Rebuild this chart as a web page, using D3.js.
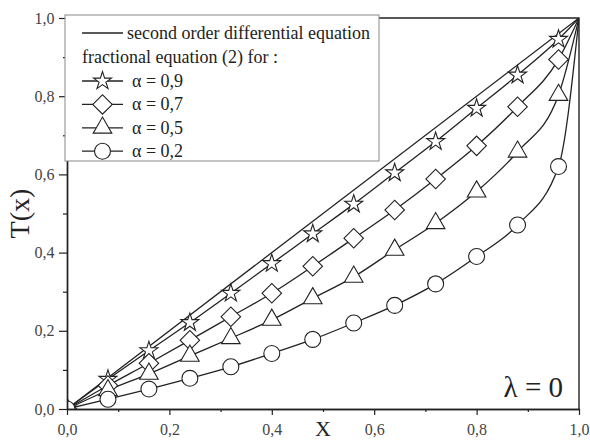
<!DOCTYPE html>
<html><head><meta charset="utf-8">
<script src="https://cdn.jsdelivr.net/npm/d3@7"></script>
<style>body{margin:0;background:#fff}svg{display:block}</style>
</head><body><svg id="c" width="590" height="441"></svg>
<script>
const xPts = [0, 0.08, 0.16, 0.24, 0.32, 0.40, 0.48, 0.56, 0.64, 0.72, 0.80, 0.88, 0.96];
const yAlpha09 = [0, 0.076, 0.149, 0.221, 0.296, 0.372, 0.448, 0.524, 0.604, 0.684, 0.769, 0.854, 0.9455];
const yAlpha07 = [0, 0.060, 0.117, 0.176, 0.236, 0.296, 0.365, 0.4365, 0.509, 0.588, 0.673, 0.773, 0.894];
const yAlpha05 = [0, 0.048, 0.090, 0.136, 0.181, 0.228, 0.283, 0.338, 0.407, 0.475, 0.556, 0.658, 0.803];
const yAlpha02 = [0, 0.025, 0.051, 0.0785, 0.108, 0.142, 0.178, 0.220, 0.265, 0.320, 0.390, 0.4706, 0.620];
const endPoint = [1, 1];
const secondOrder = [[0, 0], [1, 1]];
const alphaLabels = ["0,9", "0,7", "0,5", "0,2"];
const xTicks = [0, 0.2, 0.4, 0.6, 0.8, 1.0];
const yTicks = [0, 0.2, 0.4, 0.6, 0.8, 1.0];
const minorTicks = [0.1, 0.3, 0.5, 0.7, 0.9];

const svg = d3.select("#c");
const L = 67, R = 579, T = 18, B = 409;
const x = d3.scaleLinear().domain([0, 1]).range([L, R]);
const y = d3.scaleLinear().domain([0, 1]).range([B, T]);
const fmt = d => d3.format(".1f")(d).replace(".", ",");
const serif = "Liberation Serif, Times New Roman, Tinos, DejaVu Serif, serif";
const ink = "#222";

svg.append("defs").append("clipPath").attr("id", "clip")
  .append("rect").attr("x", L).attr("y", T).attr("width", R - L).attr("height", B - T);

const sym = {
  star: d3.symbol().type(d3.symbolStar).size(100),
  diamond: d3.symbol().type(d3.symbolSquare).size(190),
  triangle: d3.symbol().type(d3.symbolTriangle).size(150),
  circle: d3.symbol().type(d3.symbolCircle).size(200)
};
const series = [
  {vals: yAlpha09, s: "star", rot: 0},
  {vals: yAlpha07, s: "diamond", rot: 45},
  {vals: yAlpha05, s: "triangle", rot: 0},
  {vals: yAlpha02, s: "circle", rot: 0}
];

const g = svg.append("g").attr("clip-path", "url(#clip)");
const line = d3.line().x(d => x(d[0])).y(d => y(d[1])).curve(d3.curveMonotoneX);

g.append("path").attr("d", d3.line().x(d => x(d[0])).y(d => y(d[1]))(secondOrder))
  .attr("fill", "none").attr("stroke", ink).attr("stroke-width", 1.3);

series.forEach(se => {
  const pts = xPts.map((xv, i) => [xv, se.vals[i]]).concat([endPoint]);
  g.append("path").attr("d", line(pts)).attr("fill", "none").attr("stroke", ink).attr("stroke-width", 1.3);
});
series.forEach(se => {
  g.selectAll(null).data(xPts.map((xv, i) => [xv, se.vals[i]])).join("path")
    .attr("d", sym[se.s]())
    .attr("transform", d => `translate(${x(d[0])},${y(d[1])}) rotate(${se.rot})`)
    .attr("fill", "#fff").attr("stroke", ink).attr("stroke-width", 1.1);
});

const xAxis = svg.append("g").attr("transform", `translate(0,${B})`)
  .call(d3.axisBottom(x).tickValues(xTicks).tickFormat(fmt).tickSize(6).tickSizeOuter(0));
svg.append("g").attr("transform", `translate(0,${B})`)
  .call(d3.axisBottom(x).tickValues(minorTicks).tickFormat("").tickSize(3).tickSizeOuter(0));
const yAxis = svg.append("g").attr("transform", `translate(${L},0)`)
  .call(d3.axisLeft(y).tickValues(yTicks).tickFormat(fmt).tickSize(8).tickSizeOuter(0));
svg.append("g").attr("transform", `translate(${L},0)`)
  .call(d3.axisLeft(y).tickValues(minorTicks).tickFormat("").tickSize(4).tickSizeOuter(0));
svg.selectAll(".domain").attr("stroke", ink).attr("stroke-width", 1.4);
svg.selectAll(".tick line").attr("stroke", ink).attr("stroke-width", 1.2);
svg.selectAll(".tick text").attr("font-family", serif).attr("font-size", 16).attr("fill", "#444");
xAxis.selectAll(".tick text").attr("dy", "1.05em");
yAxis.selectAll(".tick text").attr("dx", "-0.1em");

svg.append("path").attr("d", `M${L},${T}H${R}V${B}`).attr("fill", "none").attr("stroke", ink).attr("stroke-width", 1.4);

svg.append("text").attr("x", x(0.5)).attr("y", 436).attr("text-anchor", "middle")
  .attr("font-family", serif).attr("font-size", 22).attr("fill", ink).text("X");
svg.append("text").attr("transform", `translate(29,${(T + B) / 2}) rotate(-90)`).attr("text-anchor", "middle")
  .attr("font-family", serif).attr("font-size", 28).attr("fill", ink).text("T(x)");

svg.append("text").attr("x", 563).attr("y", 397).attr("text-anchor", "end")
  .attr("font-family", serif).attr("font-size", 29).attr("fill", ink).text("λ = 0");

const lg = svg.append("g");
lg.append("rect").attr("x", 65).attr("y", 15).attr("width", 314).attr("height", 146)
  .attr("fill", "#fff").attr("stroke", "#888").attr("stroke-width", 1);
lg.append("line").attr("x1", 82).attr("x2", 123).attr("y1", 33).attr("y2", 33).attr("stroke", ink).attr("stroke-width", 1.3);
lg.append("text").attr("x", 127).attr("y", 39).attr("font-family", serif).attr("font-size", 18).attr("fill", ink)
  .text("second order differential equation");
lg.append("text").attr("x", 82).attr("y", 63).attr("font-family", serif).attr("font-size", 18).attr("fill", ink)
  .text("fractional equation (2) for :");
series.forEach((se, i) => {
  const cy = 81 + i * 23.4;
  lg.append("line").attr("x1", 82).attr("x2", 123).attr("y1", cy).attr("y2", cy).attr("stroke", ink).attr("stroke-width", 1.3);
  lg.append("path").attr("d", sym[se.s]()).attr("transform", `translate(102.5,${cy}) rotate(${se.rot})`)
    .attr("fill", "#fff").attr("stroke", ink).attr("stroke-width", 1.1);
  lg.append("text").attr("x", 132).attr("y", cy + 6).attr("font-family", serif).attr("font-size", 18).attr("fill", ink)
    .text("α = " + alphaLabels[i]);
});
</script></body></html>
